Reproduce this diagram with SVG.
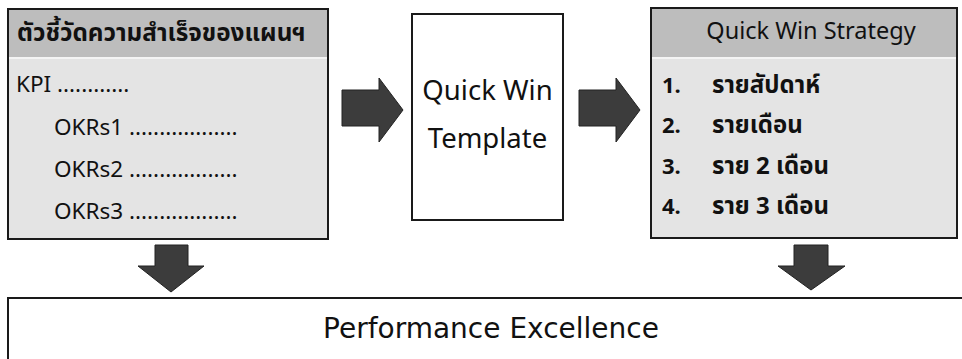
<svg xmlns="http://www.w3.org/2000/svg" width="962" height="359" viewBox="0 0 962 359">
  <defs>
    <style>
      .box { stroke: #1a1a1a; stroke-width: 2; }
      .hdr { fill: #bdbdbd; }
      .body { fill: #e4e4e4; }
      .plain { fill: #ffffff; stroke: #1a1a1a; stroke-width: 2; }
      .arrow { fill: #3c3c3c; stroke: #222; stroke-width: 1; }
      .t { font-family: "Noto Sans", "Open Sans", "Liberation Sans", sans-serif; fill: #111111; }
      .d { font-family: "DejaVu Sans", "Noto Sans", sans-serif; fill: #111111; }
      .th { font-family: "Noto Sans Thai", "Noto Sans", "Liberation Sans", sans-serif; fill: #111111; font-weight: bold; }
    </style>
  </defs>

  <rect width="962" height="359" fill="#ffffff"/>

  <g id="kpi-box">
    <rect class="body" x="8" y="9" width="320" height="230"/>
    <rect class="hdr" x="8" y="9" width="320" height="49"/>
    <line x1="8" y1="58" x2="328" y2="58" stroke="#f4f4f4" stroke-width="2"/>
    <rect x="8" y="9" width="320" height="230" fill="none" class="box"/>
    <text class="th" x="17" y="41" font-size="24.3">ตัวชี้วัดความสำเร็จของแผนฯ</text>
    <text class="t" x="16" y="92" font-size="22.5">KPI ............</text>
    <text class="t" x="54" y="135" font-size="22.5">OKRs1 ..................</text>
    <text class="t" x="54" y="177" font-size="22.5">OKRs2 ..................</text>
    <text class="t" x="54" y="219" font-size="22.5">OKRs3 ..................</text>
  </g>

  <g id="template-box">
    <rect class="plain" x="412" y="14" width="151" height="206"/>
    <text class="t" x="487.5" y="100" font-size="27.5" text-anchor="middle">Quick Win</text>
    <text class="t" x="487.5" y="148" font-size="27.5" text-anchor="middle">Template</text>
  </g>

  <g id="strategy-box">
    <rect class="body" x="651" y="8" width="306" height="230"/>
    <rect class="hdr" x="651" y="8" width="306" height="50"/>
    <line x1="651" y1="58" x2="957" y2="58" stroke="#f4f4f4" stroke-width="2"/>
    <rect x="651" y="8" width="306" height="230" fill="none" class="box"/>
    <text class="t" x="811" y="39" font-size="23.5" text-anchor="middle">Quick Win Strategy</text>
    <text class="th" x="662" y="93" font-size="22">1.</text>
    <text class="th" x="712" y="93" font-size="24">รายสัปดาห์</text>
    <text class="th" x="662" y="133" font-size="22">2.</text>
    <text class="th" x="712" y="133" font-size="24">รายเดือน</text>
    <text class="th" x="662" y="174" font-size="22">3.</text>
    <text class="th" x="712" y="174" font-size="24">ราย 2 เดือน</text>
    <text class="th" x="662" y="214" font-size="22">4.</text>
    <text class="th" x="712" y="214" font-size="24">ราย 3 เดือน</text>
  </g>

  <g id="performance-box">
    <rect class="plain" x="8" y="298" width="970" height="80"/>
    <text class="d" x="491" y="338" font-size="28" text-anchor="middle">Performance Excellence</text>
  </g>

  <g id="connectors">
    <polygon class="arrow" points="342,90 379,90 379,78 403,110 379,142 379,126 342,126"/>
    <polygon class="arrow" points="579,90 616,90 616,78 640,110 616,142 616,126 579,126"/>
    <polygon class="arrow" points="155,245 188,245 188,266 204,266 171,292 138,266 155,266"/>
    <polygon class="arrow" points="794,245 828,245 828,266 845,266 811,290 778,266 794,266"/>
  </g>
</svg>
